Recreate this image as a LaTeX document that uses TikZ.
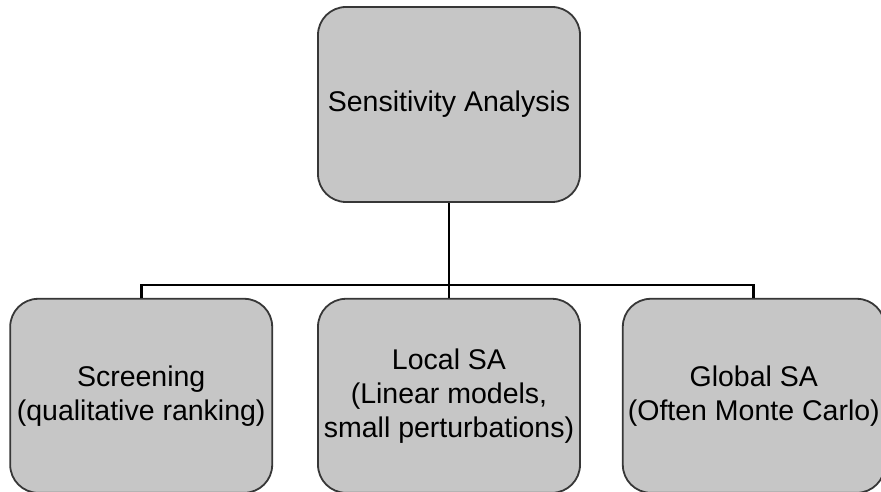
\documentclass[tikz,border=0pt]{standalone}
\usepackage{fontspec}
\setmainfont{Liberation Sans}
\usetikzlibrary{positioning}
\definecolor{boxGray}{RGB}{198,198,198}
\definecolor{edgeGray}{RGB}{55,55,55}

\begin{document}
\begin{tikzpicture}[x=1pt, y=1pt,
    boxNode/.style={rectangle, rounded corners=28pt, draw=edgeGray, fill=boxGray, line width=1.8pt, minimum width=262pt, minimum height=194pt, align=center, inner sep=0pt, font=\fontsize{28.5}{34}\selectfont},
    link/.style={line width=2.8pt, black}]

  \useasboundingbox (0,0) rectangle (881,492);

  % Top box
  \node[boxNode, minimum height=195pt] (sa) at (449,387.5) {Sensitivity Analysis};

  % Bottom row
  \node[boxNode, below=95pt of sa] (local) {Local SA\\(Linear models,\\small perturbations)};
  \node[boxNode, left=44pt of local] (screen) {Screening\\(qualitative ranking)};
  \node[boxNode, right=41pt of local] (global) {Global SA\\(Often Monte Carlo)};

  % Connectors
  \coordinate (fork) at (449,207);
  \draw[link] (sa) -- (fork);
  \draw[link] (fork) -| (screen);
  \draw[link] (fork) -- (local);
  \draw[link] (fork) -| (global);
\end{tikzpicture}
\end{document}
